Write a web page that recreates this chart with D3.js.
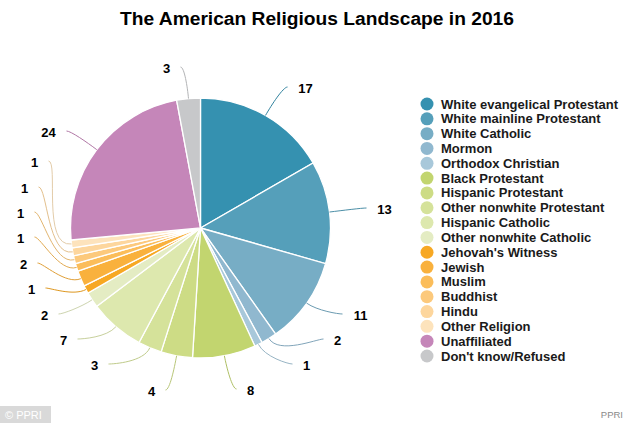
<!DOCTYPE html>
<html>
<head>
<meta charset="utf-8">
<script src="https://cdn.jsdelivr.net/npm/d3@7"></script>
<style>
    html, body { margin: 0; padding: 0; background: #fff; }
    svg { display: block; font-family: "Liberation Sans", Arial, sans-serif; }
</style>
</head>
<body>
<svg id="chart" width="634" height="423"></svg>
<script>
var categories = [
    "White evangelical Protestant", "White mainline Protestant", "White Catholic", "Mormon",
    "Orthodox Christian", "Black Protestant", "Hispanic Protestant", "Other nonwhite Protestant",
    "Hispanic Catholic", "Other nonwhite Catholic", "Jehovah's Witness", "Jewish", "Muslim",
    "Buddhist", "Hindu", "Other Religion", "Unaffiliated", "Don't know/Refused"
];
var values = [17, 13, 11, 2, 1, 8, 4, 3, 7, 2, 1, 2, 1, 1, 1, 1, 24, 3];
var colors = [
    "#3591b0", "#559fba", "#77adc5", "#90b8cf", "#a8c8da", "#c2d56f", "#cddc85", "#d5e29a", "#dde8ae",
    "#e4ecc3", "#f7a823", "#f9b13d", "#fbbd5a", "#fcc97c", "#fdd69d", "#fde3bc", "#c586b9", "#c7c8ca"
];

// Label centres relative to the pie centre, the left ones are stacked so they don't collide
var labelOffsets = [
    [105, -140], [184, -19], [160, 87], [137, 112], [106, 137], [50, 162], [-49, 163], [-106, 137], [-137, 112],
    [-156, 87], [-169, 61], [-177, 36], [-180, 10], [-180, -15], [-176, -40], [-166, -66], [-152, -96], [-34, -160]
];

var svg = d3.select("#chart");
var cx = 200.5, cy = 228, radius = 130;

svg.append("text")
    .attr("x", 317)
    .attr("y", 25)
    .attr("text-anchor", "middle")
    .style("font-size", "19.2px")
    .style("font-weight", "bold")
    .text("The American Religious Landscape in 2016");

var pie = d3.pie().sort(null).value(function (d) { return d; });
var arc = d3.arc().innerRadius(0).outerRadius(radius);
var slices = pie(values);

var g = svg.append("g").attr("transform", "translate(" + cx + "," + cy + ")");

g.selectAll(".slice")
    .data(slices)
    .enter().append("path")
    .attr("class", "slice")
    .attr("d", arc)
    .attr("fill", function (d, i) { return colors[i]; })
    .attr("stroke", "#fff")
    .attr("stroke-width", 1.3);

// Leader lines leave the pie radially and bend towards the label
function leaderPath(d, i) {
    var mid = (d.startAngle + d.endAngle) / 2;
    var ux = Math.sin(mid), uy = -Math.cos(mid);
    var off = labelOffsets[i];
    var side = off[0] < 0 ? -1 : 1;
    var gap = String(d.value).length > 1 ? 18 : 14;
    var x0 = ux * radius, y0 = uy * radius;
    var x1 = off[0] - side * gap, y1 = off[1] - 1;
    var reach = Math.hypot(x1 - x0, y1 - y0);
    return "M" + x0 + "," + y0 +
        "C" + (x0 + ux * reach * 0.35) + "," + (y0 + uy * reach * 0.35) +
        " " + (x1 - side * reach * 0.12) + "," + y1 +
        " " + x1 + "," + y1;
}

g.selectAll(".leader")
    .data(slices)
    .enter().append("path")
    .attr("class", "leader")
    .attr("d", leaderPath)
    .attr("fill", "none")
    .attr("stroke", function (d, i) { return d3.color(colors[i]).darker(0.3); })
    .attr("stroke-width", 1);

g.selectAll(".value")
    .data(slices)
    .enter().append("text")
    .attr("class", "value")
    .attr("x", function (d, i) { return labelOffsets[i][0]; })
    .attr("y", function (d, i) { return labelOffsets[i][1] + 4.5; })
    .attr("text-anchor", "middle")
    .style("font-size", "13px")
    .style("font-weight", "bold")
    .text(function (d) { return d.value; });

// Legend
var legendY = d3.scalePoint().domain(categories).range([104, 356]);

var legend = svg.selectAll(".legend")
    .data(categories)
    .enter().append("g")
    .attr("class", "legend")
    .attr("transform", function (d) { return "translate(427," + legendY(d) + ")"; });

legend.append("circle")
    .attr("r", 6.5)
    .attr("fill", function (d, i) { return colors[i]; });

legend.append("text")
    .attr("x", 14)
    .attr("y", 4.5)
    .style("font-size", "13px")
    .style("font-weight", "bold")
    .style("fill", "#1a1a1a")
    .text(function (d) { return d; });

// Credits
svg.append("rect")
    .attr("x", 0).attr("y", 406)
    .attr("width", 51).attr("height", 17)
    .attr("fill", "#d9d9d9");

svg.append("text")
    .attr("x", 5).attr("y", 419)
    .style("font-size", "11px")
    .style("fill", "#fff")
    .text("© PPRI");

svg.append("text")
    .attr("x", 623).attr("y", 418)
    .attr("text-anchor", "end")
    .style("font-size", "9.5px")
    .style("fill", "#8a8a8a")
    .text("PPRI");
</script>
</body>
</html>
